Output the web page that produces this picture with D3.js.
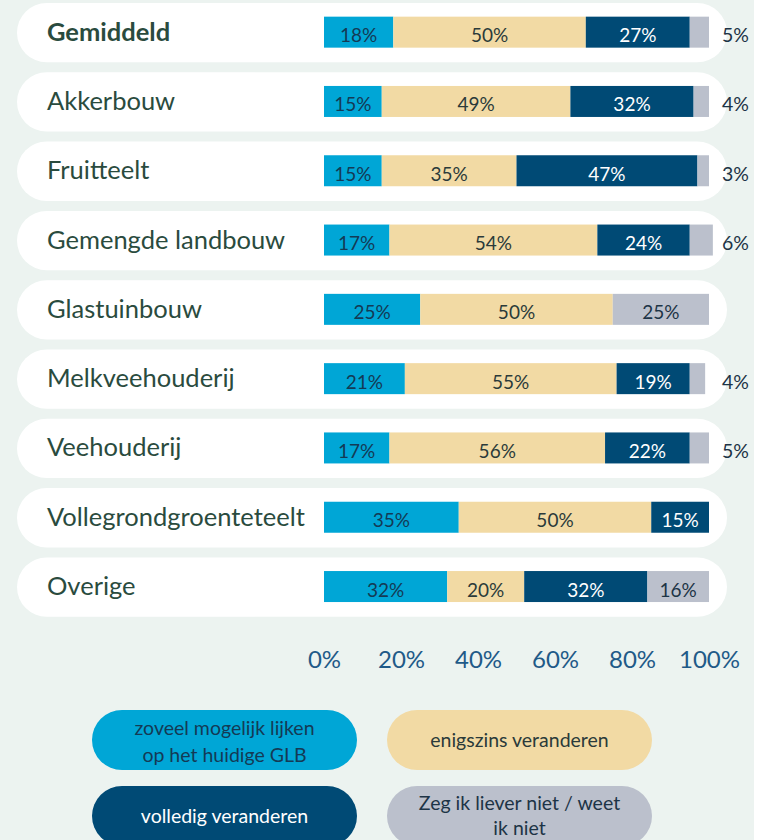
<!DOCTYPE html>
<html>
<head>
<meta charset="utf-8">
<script src="https://cdn.jsdelivr.net/npm/d3@7"></script>
<style>
  html, body { margin: 0; padding: 0; background: #ffffff; }
  svg { display: block; font-family: Lato, "Open Sans", sans-serif; }
</style>
</head>
<body>
<svg id="chart" width="774" height="840"></svg>
<script>
// Sector categories and answer shares (%)
const categories = ["Gemiddeld", "Akkerbouw", "Fruitteelt", "Gemengde landbouw", "Glastuinbouw",
                    "Melkveehouderij", "Veehouderij", "Vollegrondgroenteteelt", "Overige"];
const zoveelMogelijk = [18, 15, 15, 17, 25, 21, 17, 35, 32];
const enigszins      = [50, 49, 35, 54, 50, 55, 56, 50, 20];
const volledig       = [27, 32, 47, 24, 0, 19, 22, 15, 32];
const weetNiet       = [5, 4, 3, 6, 25, 4, 5, 0, 16];

const seriesNames = ["zoveel mogelijk lijken op het huidige GLB", "enigszins veranderen",
                     "volledig veranderen", "Zeg ik liever niet / weet ik niet"];
const seriesLines = [["zoveel mogelijk lijken", "op het huidige GLB"], ["enigszins veranderen"],
                     ["volledig veranderen"], ["Zeg ik liever niet / weet", "ik niet"]];
const tickValues = [0, 20, 40, 60, 80, 100];

const colors = ["#00a6d6", "#f2daa4", "#004a75", "#bbc0cc"];
const textColors = ["#143a55", "#2b3a3a", "#ffffff", "#1d3446"];

const svg = d3.select("#chart");

// panel background
svg.append("rect").attr("x", 0).attr("y", 0).attr("width", 754).attr("height", 840)
  .attr("fill", "#ecf3f0");

const x = d3.scaleLinear().domain([0, 100]).range([324, 709]);
const y = d3.scaleBand().domain(categories).range([3, 616.7]).paddingInner(0.144).paddingOuter(0);

const table = categories.map((c, i) => ({
  cat: c, vals: [zoveelMogelijk[i], enigszins[i], volledig[i], weetNiet[i]]
}));

const rows = svg.selectAll("g.row").data(table).join("g").attr("class", "row")
  .attr("transform", d => `translate(0,${y(d.cat)})`);

const bw = y.bandwidth();
const mid = bw / 2;

// white pill behind each row
rows.append("rect")
  .attr("x", 17).attr("y", 0).attr("width", 727 - 17).attr("height", bw)
  .attr("rx", bw / 2).attr("fill", "#ffffff");

// category label
rows.append("text")
  .attr("x", 47).attr("y", mid + 8)
  .attr("font-size", 25.5)
  .attr("font-weight", (d, i) => i === 0 ? 700 : 400)
  .attr("fill", "#2a4b3e")
  .text(d => d.cat);

// stacked segments
rows.each(function(d) {
  const g = d3.select(this);
  let acc = 0;
  d.vals.forEach((v, k) => {
    const x0 = acc, x1 = acc + v;
    acc = x1;
    if (v <= 0) return;
    g.append("rect")
      .attr("x", x(x0)).attr("y", mid - 16)
      .attr("width", x(x1) - x(x0)).attr("height", 31)
      .attr("fill", colors[k]);
    const outside = k === 3 && v < 10;
    g.append("text")
      .attr("x", outside ? x(100) + 13 : (x(x0) + x(x1)) / 2)
      .attr("y", mid + 9.5)
      .attr("text-anchor", outside ? "start" : "middle")
      .attr("font-size", outside ? 19.5 : 19)
      .attr("fill", outside ? "#1d3446" : textColors[k])
      .text(v + "%");
  });
});

// percentage axis
const axis = d3.axisBottom(x).tickValues(tickValues).tickFormat(d => d + "%").tickSize(0).tickPadding(0);
const axisG = svg.append("g").attr("transform", "translate(0,650)").call(axis);
axisG.select(".domain").remove();
axisG.selectAll("text")
  .attr("font-family", "Lato, 'Open Sans', sans-serif")
  .attr("font-size", 24)
  .attr("fill", "#1f5a88")
  .attr("dy", "0.75em");

// legend
const legendPos = [[92, 710], [387, 710], [92, 786], [387, 786]];
const lg = svg.selectAll("g.legend").data(seriesNames).join("g").attr("class", "legend")
  .attr("transform", (d, i) => `translate(${legendPos[i][0]},${legendPos[i][1]})`);
lg.append("rect").attr("width", 265).attr("height", 60).attr("rx", 30)
  .attr("fill", (d, i) => colors[i]);
lg.each(function(d, i) {
  const lines = seriesLines[i];
  const t = d3.select(this).append("text")
    .attr("text-anchor", "middle")
    .attr("font-size", 19.5)
    .attr("fill", textColors[i]);
  const startY = lines.length === 1 ? 37 : (i === 3 ? 24 : 25);
  const step = i === 3 ? 25 : 27;
  lines.forEach((ln, j) => {
    t.append("tspan").attr("x", 132.5).attr("y", startY + j * step).text(ln);
  });
});
</script>
</body>
</html>
